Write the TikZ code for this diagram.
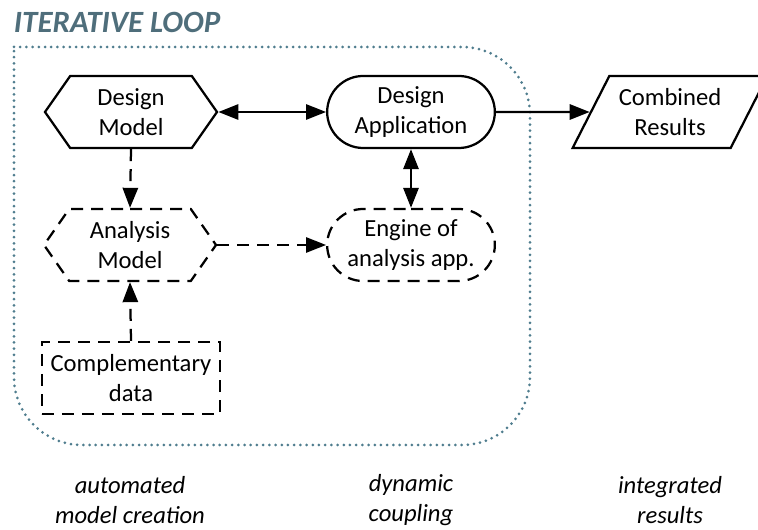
\documentclass[tikz,border=0pt]{standalone}
\usepackage{fontspec}
\setmainfont{Carlito}
\usetikzlibrary{arrows.meta, shapes.symbols, shapes.misc, shapes.geometric}

\definecolor{loopblue}{HTML}{4F7D8E}
\definecolor{titleblue}{HTML}{4F6E7B}

\tikzset{
    model/.style={signal, signal to=west and east, signal pointer angle=110, draw, line width=1.6pt,
        minimum width=4.3cm, minimum height=1.8cm, align=center, inner sep=0pt},
    app/.style={rounded rectangle, draw, line width=1.6pt, minimum width=4.425cm, minimum height=1.8cm, align=center},
    result/.style={trapezium, trapezium left angle=63, trapezium right angle=117, draw, line width=1.6pt,
        minimum height=1.8cm, align=center, inner ysep=0pt, inner xsep=-0.28cm},
    extra/.style={rectangle, draw, line width=1.6pt, minimum width=4.45cm, minimum height=1.8cm, align=center, inner sep=0pt},
    virtual/.style={dash pattern=on 0.3cm off 0.2cm},
    link/.style={line width=1.6pt, -{Triangle[length=0.5cm, width=0.38cm]}},
    duplex/.style={line width=1.6pt, {Triangle[length=0.5cm, width=0.38cm]}-{Triangle[length=0.5cm, width=0.38cm]}},
    loopdots/.style={loopblue, line width=0.075cm, line cap=round, dash pattern=on 0pt off 0.155cm},
    phase/.style={font=\fontsize{17.5}{21.5}\selectfont\itshape, align=center}
}

\begin{document}
\begin{tikzpicture}[x=0.025cm, y=-0.025cm, font=\fontsize{17.5}{21.5}\selectfont]
    \useasboundingbox (0,0) rectangle (758,530);

    % iterative loop frame
    \node[anchor=west, text=titleblue, font=\fontsize{22}{26}\selectfont\bfseries\itshape] (title) at (9,22) {ITERATIVE LOOP};
    \draw[loopdots] (14,47) [rounded corners=1.7cm] -- (530,47) -- (530,445) -- (14,445) [sharp corners] -- (14,47);

    % shapes
    \node[model] (design) at (131,112) {Design\\Model};
    \node[app] (app) at (411,112) {Design\\Application};
    \node[result] (combined) at (670,112) {Combined\\Results};
    \node[model, virtual] (analysis) at (130,245) {Analysis\\Model};
    \node[app, virtual] (engine) at (411,245) {Engine of\\analysis app.};
    \node[extra, virtual] (data) at (131,378) {Complementary\\data};

    % connectors
    \draw[duplex] (design.east) -- (app.west);
    \draw[link] (app.east) -- (combined.west);
    \draw[duplex] (app.south) -- (engine.north);
    \draw[link, virtual] (design.south) -- (analysis.north);
    \draw[link, virtual] (data.north) -- (analysis.south);
    \draw[link, virtual] (analysis.east) -- (engine.west);

    % phases
    \node[phase] (creation) at (130,500) {automated\\model creation};
    \node[phase] (coupling) at (411,500) {dynamic\\coupling};
    \node[phase] (integrated) at (670,500) {integrated\\results};
\end{tikzpicture}
\end{document}
